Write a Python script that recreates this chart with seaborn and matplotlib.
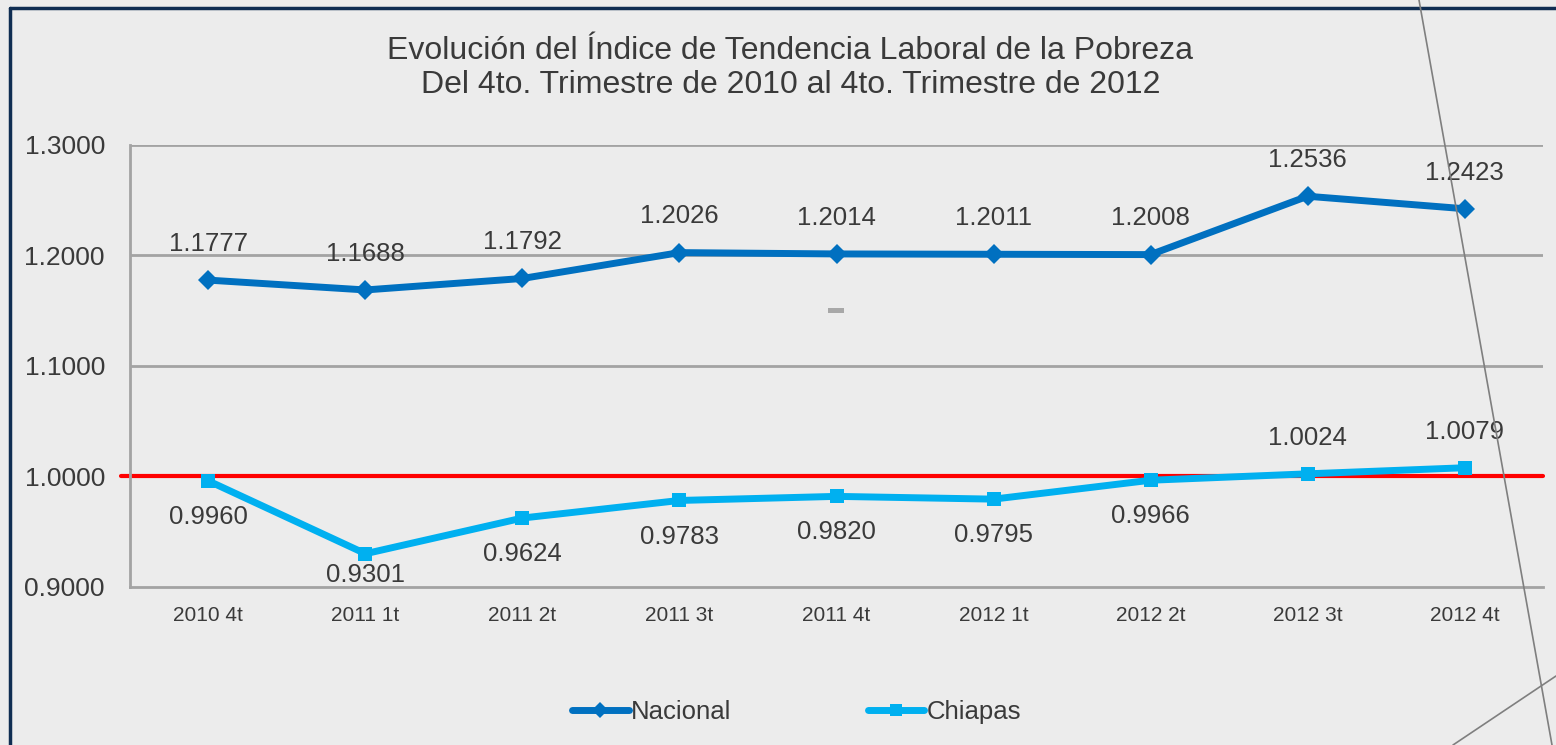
import seaborn as sns
import pandas as pd
import matplotlib.pyplot as plt
from matplotlib.lines import Line2D
from matplotlib.patches import Rectangle

periodos = ["2010 4t", "2011 1t", "2011 2t", "2011 3t", "2011 4t",
            "2012 1t", "2012 2t", "2012 3t", "2012 4t"]
nacional = [1.1777, 1.1688, 1.1792, 1.2026, 1.2014, 1.2011, 1.2008, 1.2536, 1.2423]
chiapas = [0.9960, 0.9301, 0.9624, 0.9783, 0.9820, 0.9795, 0.9966, 1.0024, 1.0079]
# desplazamiento vertical de las etiquetas de Chiapas (puntos)
chiapas_dy = [-26, -15, -26, -26, -26, -26, -26, 26, 26]

titulo = ("Evolución del Índice de Tendencia Laboral de la Pobreza\n"
          "Del 4to. Trimestre de 2010 al 4to. Trimestre de 2012")

fondo = "#ececec"
gris = "#a3a3a3"
texto = "#3a3a3a"

df = pd.DataFrame({
    "pos": list(range(len(periodos))) * 2,
    "valor": nacional + chiapas,
    "serie": ["Nacional"] * len(nacional) + ["Chiapas"] * len(chiapas),
})

sns.set_theme(style="white")
plt.rcParams["font.family"] = ["Liberation Sans", "DejaVu Sans"]
plt.rcParams["text.color"] = texto

fig = plt.figure(figsize=(15.56, 7.45), dpi=100, facecolor=fondo)
ax = fig.add_axes([0.0835, 0.2121, 0.9082, 0.5933])
ax.set_facecolor(fondo)

ax.axhline(1.0, xmin=-0.006, xmax=1, color="#ff0000", lw=3, clip_on=False, zorder=2)

sns.lineplot(data=df, x="pos", y="valor", hue="serie", style="serie",
             palette={"Nacional": "#0070c0", "Chiapas": "#00b0f0"},
             markers={"Nacional": "D", "Chiapas": "s"}, dashes=False,
             lw=5, markersize=10, markeredgewidth=0, ax=ax, zorder=3)

for i, v in enumerate(nacional):
    ax.annotate(f"{v:.4f}", (i, v), xytext=(0, 26), textcoords="offset points",
                ha="center", va="center", fontsize=18.5, color=texto)
for i, v in enumerate(chiapas):
    ax.annotate(f"{v:.4f}", (i, v), xytext=(0, chiapas_dy[i]), textcoords="offset points",
                ha="center", va="center", fontsize=18.5, color=texto)

ax.set_xlim(-0.5, len(periodos) - 0.5)
ax.set_ylim(0.9, 1.3)
ax.set_yticks([0.9, 1.0, 1.1, 1.2, 1.3])
ax.set_yticklabels([f"{t:.4f}" for t in [0.9, 1.0, 1.1, 1.2, 1.3]])
ax.set_xticks([i + 0.5 for i in range(-1, len(periodos))])
ax.set_xticklabels([])
ax.set_xticks(range(len(periodos)), minor=True)
ax.set_xticklabels(periodos, minor=True)
ax.tick_params(axis="x", which="major", length=8, width=2, color=gris, direction="out")
ax.tick_params(axis="x", which="minor", length=0, pad=14, labelsize=15, labelcolor=texto)
ax.tick_params(axis="y", length=8, width=2, color=gris, pad=10, labelsize=19, labelcolor=texto)
ax.set_xlabel("")
ax.set_ylabel("")

for y in [1.1, 1.2, 1.3]:
    ax.axhline(y, color=gris, lw=2, zorder=1)
for s in ["top", "right"]:
    ax.spines[s].set_visible(False)
for s in ["left", "bottom"]:
    ax.spines[s].set_color(gris)
    ax.spines[s].set_linewidth(2)

fig.text(0.508, 0.909, titulo, ha="center", va="center", fontsize=23,
         color=texto, linespacing=1.18)

handles, labels = ax.get_legend_handles_labels()
for h in handles:
    h.set_markersize(8)
    h.set_solid_capstyle("round")
ax.legend(handles, labels, loc="center", bbox_to_anchor=(0.512, 0.044),
          bbox_transform=fig.transFigure, ncol=2, frameon=False, fontsize=18.5,
          handlelength=2.2, handletextpad=0.1, columnspacing=5.3)

# marco y líneas decorativas de la diapositiva
fig.add_artist(Line2D([10 / 1556, 10 / 1556], [0, 1 - 8 / 745], color="#0f2d52", lw=2.5))
fig.add_artist(Line2D([10 / 1556, 1], [1 - 8 / 745, 1 - 8 / 745], color="#0f2d52", lw=2.5))
fig.add_artist(Line2D([1419 / 1556, 1552 / 1556], [1, 0], color="#7f7f7f", lw=1.2))
fig.add_artist(Line2D([1453 / 1556, 1], [0, 1 - 676 / 745], color="#7f7f7f", lw=1.2))
fig.add_artist(Rectangle((828 / 1556, 1 - 313 / 745), 16 / 1556, 5 / 745,
                         color="#a8a8a8", lw=0))

fig.savefig("out.png", dpi=100, facecolor=fondo)
